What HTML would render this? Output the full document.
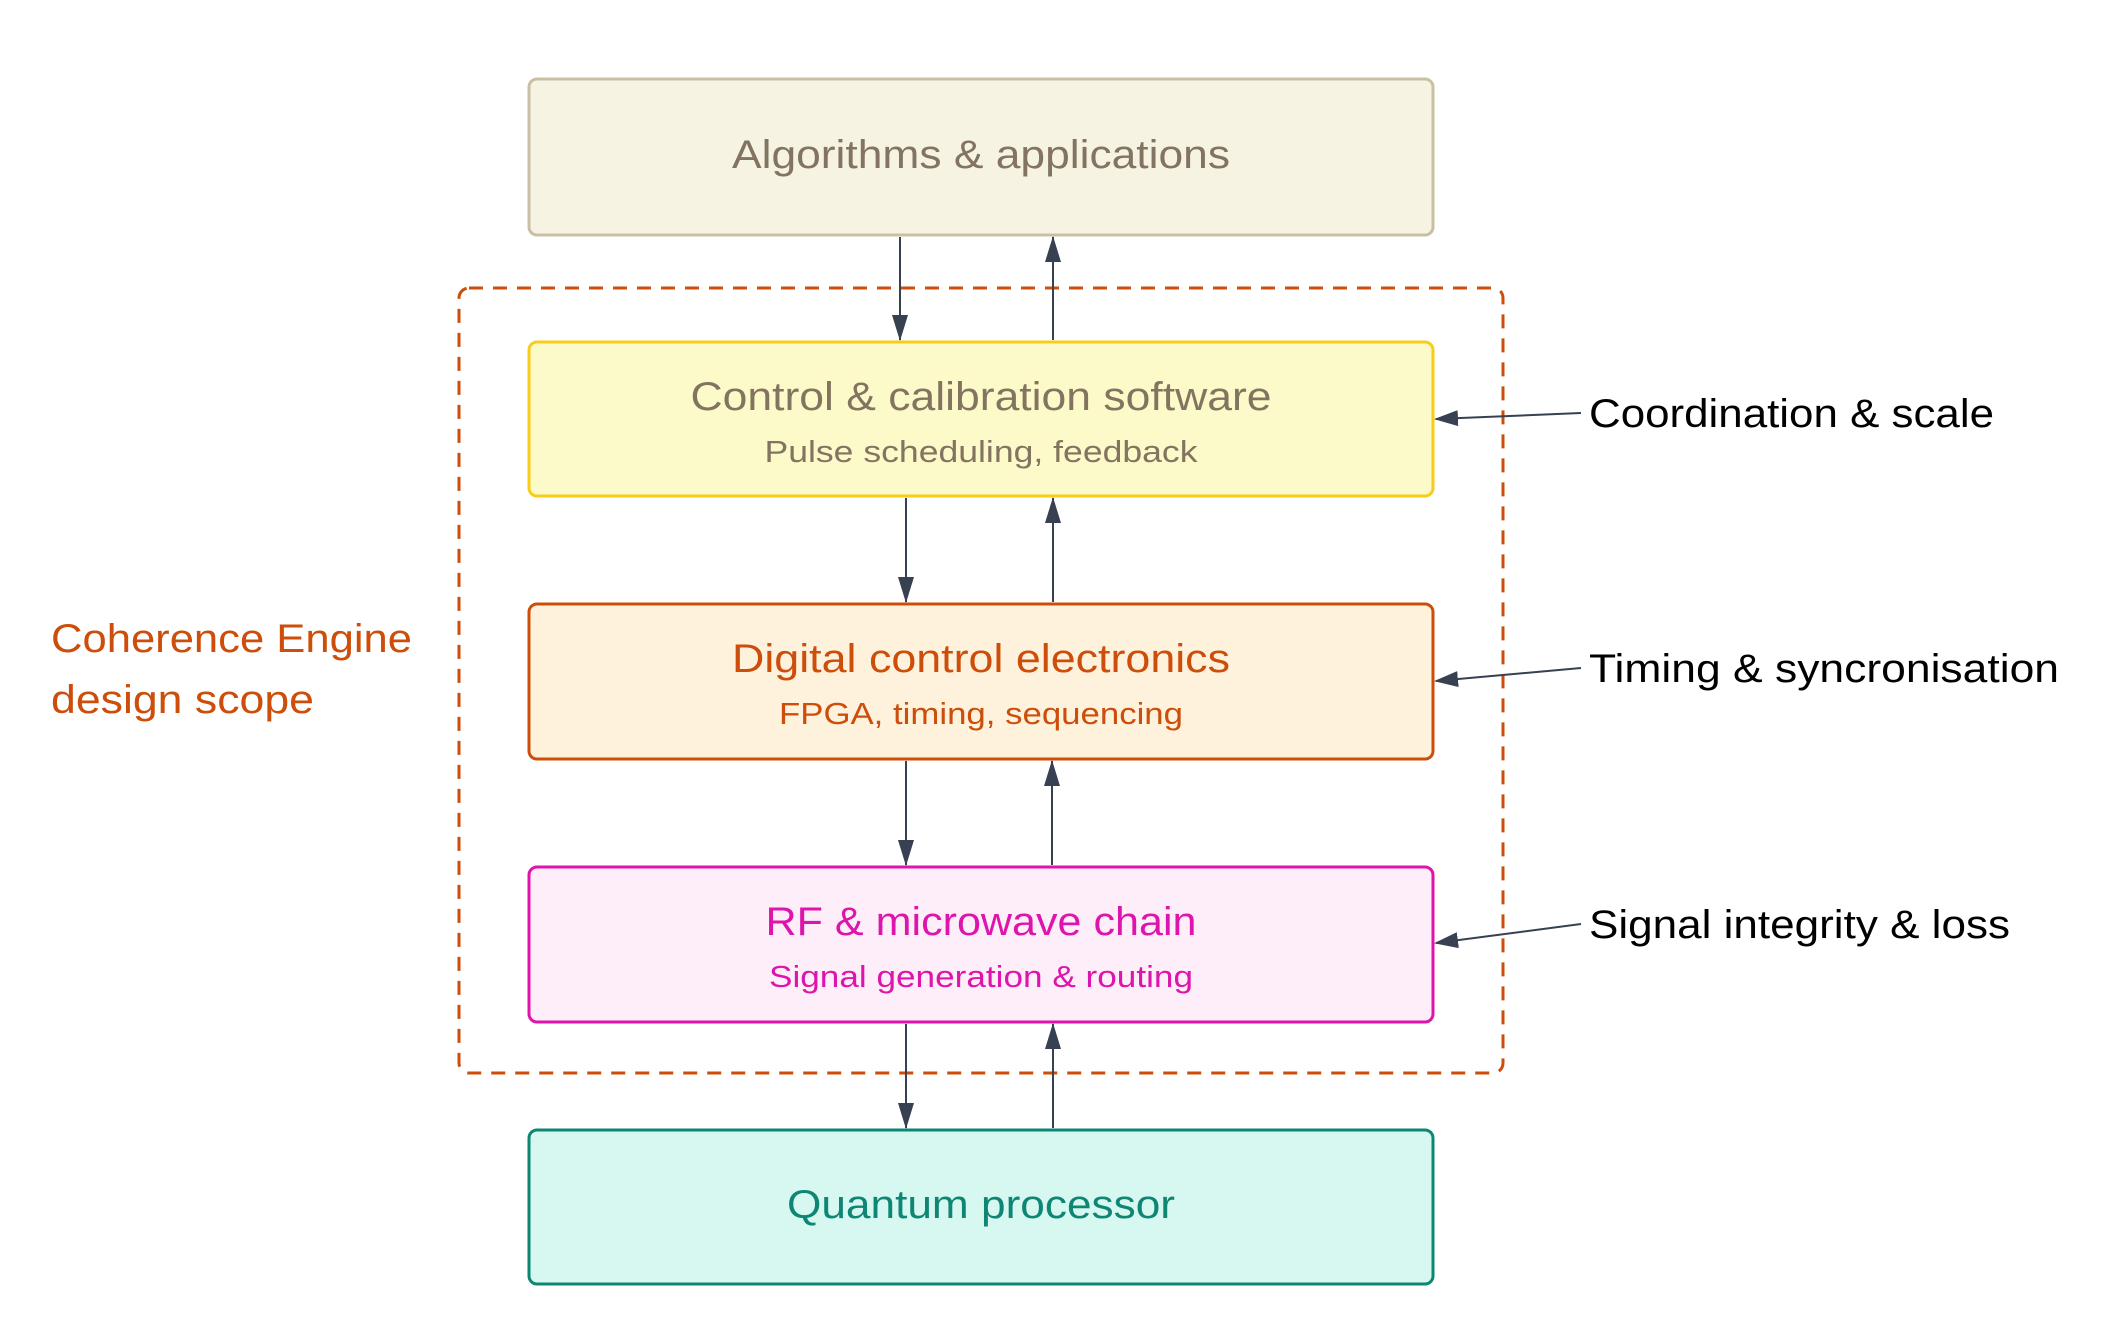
<!DOCTYPE html>
<html><head><meta charset="utf-8"><style>
html,body{margin:0;padding:0;background:#fff;}
body{width:2104px;height:1316px;overflow:hidden;}
text{font-family:"Liberation Sans",sans-serif;}
</style></head><body>
<svg width="2104" height="1316" viewBox="0 0 2104 1316" xmlns="http://www.w3.org/2000/svg">
<defs>
<marker id="a" markerWidth="26" markerHeight="16" refX="25" refY="8" orient="auto" markerUnits="userSpaceOnUse">
<path d="M0,0 L26,8 L0,16 z" fill="#374151"/></marker>
<marker id="b" markerWidth="24" markerHeight="16" refX="22" refY="8" orient="auto" markerUnits="userSpaceOnUse">
<path d="M0,0 L24,8 L0,16 z" fill="#374151"/></marker>
</defs>
<rect x="459" y="288" width="1044" height="785" rx="10" fill="none" stroke="#cc4e0a" stroke-width="3" stroke-dasharray="14,10"/>
<text x="51" y="652" font-size="40" fill="#cc4e0a" textLength="361" lengthAdjust="spacingAndGlyphs">Coherence Engine</text>
<text x="51" y="713" font-size="40" fill="#cc4e0a" textLength="263" lengthAdjust="spacingAndGlyphs">design scope</text>

<rect x="529" y="79" width="904" height="156" rx="8" fill="#f6f3e3" stroke="#c9c0a4" stroke-width="3"/>
<text x="981" y="168" font-size="40" fill="#827460" text-anchor="middle" textLength="498" lengthAdjust="spacingAndGlyphs">Algorithms &amp; applications</text>

<rect x="529" y="342" width="904" height="154" rx="8" fill="#fcfac8" stroke="#f7cd1a" stroke-width="3"/>
<text x="981" y="410" font-size="40" fill="#827460" text-anchor="middle" textLength="581" lengthAdjust="spacingAndGlyphs">Control &amp; calibration software</text>
<text x="981" y="462" font-size="31" fill="#827460" text-anchor="middle" textLength="433" lengthAdjust="spacingAndGlyphs">Pulse scheduling, feedback</text>

<rect x="529" y="604" width="904" height="155" rx="8" fill="#fef2dc" stroke="#cc4e0a" stroke-width="3"/>
<text x="981" y="672" font-size="40" fill="#cc4e0a" text-anchor="middle" textLength="498" lengthAdjust="spacingAndGlyphs">Digital control electronics</text>
<text x="981" y="724" font-size="31" fill="#cc4e0a" text-anchor="middle" textLength="404" lengthAdjust="spacingAndGlyphs">FPGA, timing, sequencing</text>

<rect x="529" y="867" width="904" height="155" rx="8" fill="#fdeef9" stroke="#dd15ac" stroke-width="3"/>
<text x="981" y="935" font-size="40" fill="#dd15ac" text-anchor="middle" textLength="431" lengthAdjust="spacingAndGlyphs">RF &amp; microwave chain</text>
<text x="981" y="987" font-size="31" fill="#dd15ac" text-anchor="middle" textLength="424" lengthAdjust="spacingAndGlyphs">Signal generation &amp; routing</text>

<rect x="529" y="1130" width="904" height="154" rx="8" fill="#d6f8f1" stroke="#0e8674" stroke-width="3"/>
<text x="981" y="1218" font-size="40" fill="#0e8674" text-anchor="middle" textLength="388" lengthAdjust="spacingAndGlyphs">Quantum processor</text>

<g stroke="#374151" stroke-width="2" fill="none">
<line x1="900" y1="237" x2="900" y2="340" marker-end="url(#a)"/>
<line x1="1053" y1="340" x2="1053" y2="237" marker-end="url(#a)"/>
<line x1="906" y1="498" x2="906" y2="602" marker-end="url(#a)"/>
<line x1="1053" y1="602" x2="1053" y2="498" marker-end="url(#a)"/>
<line x1="906" y1="761" x2="906" y2="865" marker-end="url(#a)"/>
<line x1="1052" y1="865" x2="1052" y2="761" marker-end="url(#a)"/>
<line x1="906" y1="1024" x2="906" y2="1128" marker-end="url(#a)"/>
<line x1="1053" y1="1128" x2="1053" y2="1024" marker-end="url(#a)"/>
<line x1="1581" y1="413" x2="1436" y2="419" marker-end="url(#b)"/>
<line x1="1581" y1="668" x2="1436" y2="681" marker-end="url(#b)"/>
<line x1="1581" y1="924" x2="1436" y2="943" marker-end="url(#b)"/>
</g>
<text x="1589" y="427" font-size="40" fill="#000" textLength="405" lengthAdjust="spacingAndGlyphs">Coordination &amp; scale</text>
<text x="1589" y="682" font-size="40" fill="#000" textLength="470" lengthAdjust="spacingAndGlyphs">Timing &amp; syncronisation</text>
<text x="1589" y="938" font-size="40" fill="#000" textLength="421" lengthAdjust="spacingAndGlyphs">Signal integrity &amp; loss</text>
</svg>
</body></html>
